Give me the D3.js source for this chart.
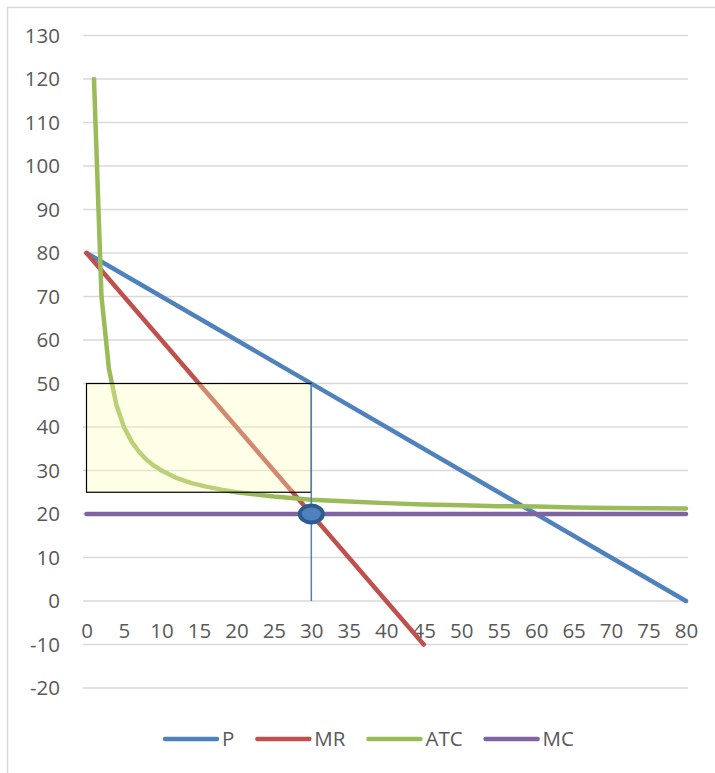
<!DOCTYPE html>
<html><head><meta charset="utf-8">
<script src="https://cdn.jsdelivr.net/npm/d3@7"></script>
<style>
html,body{margin:0;padding:0;background:#fff;}
svg{display:block;}
text{font-family:"Open Sans","Noto Sans",sans-serif;fill:#595959;}
</style></head>
<body>
<script>
// Data
const yTicks = [-20,-10,0,10,20,30,40,50,60,70,80,90,100,110,120,130];
const xTicks = [0,5,10,15,20,25,30,35,40,45,50,55,60,65,70,75,80];
const pQ = [0, 80];            const pV = [80, 0];
const mrQ = [0, 45];           const mrV = [80, -10];
const atcQ = [1,2,3,4,5,6,7,8,9,10,12,14,16,18,20,25,30,35,40,45,50,55,60,65,70,75,80];
const atcV = [120,70,53.3,45,40,36.7,34.3,32.5,31.1,30,28.3,27.1,26.3,25.6,25,24,23.3,22.9,22.5,22.2,22,21.8,21.7,21.5,21.4,21.3,21.25];
const mcQ = [0, 80];           const mcV = [20, 20];
const boxQ = [0, 30];          const boxV = [25, 50];   // profit rectangle
const optQ = 30;               const optV = 20;         // MR = MC point
const seriesNames = ["P","MR","ATC","MC"];
const seriesColors = ["#4F81BD","#C0504D","#9BBB59","#8064A2"];

const W = 715, H = 773;
const FS = 20.5;
const svg = d3.select("body").append("svg").attr("width", W).attr("height", H);

// outer chart border
svg.append("rect").attr("x",7.5).attr("y",7.5).attr("width",W+20).attr("height",H+20)
  .attr("fill","none").attr("stroke","#d9d9d9").attr("stroke-width",1.5);

const x = d3.scaleLinear().domain([0,80]).range([86.5,686]);
const y = d3.scaleLinear().domain([-20,130]).range([688,35.5]);

// gridlines
svg.append("g").selectAll("line").data(yTicks).join("line")
  .attr("x1", x(0)-3.5).attr("x2", x(80)+2)
  .attr("y1", d=>y(d)).attr("y2", d=>y(d))
  .attr("stroke","#d9d9d9").attr("stroke-width",1.3);

const fmt = d => String(d);

// y axis labels
const yAxis = d3.axisLeft(y).tickValues(yTicks).tickFormat(fmt).tickSize(0).tickPadding(0);
const gy = svg.append("g").attr("transform","translate(60,0)").call(yAxis);
gy.select(".domain").remove();
gy.selectAll("text").attr("font-size",FS).attr("fill","#595959")
  .attr("font-family",'"Open Sans","Noto Sans",sans-serif');

// x axis labels (next to the y=0 line)
const xAxis = d3.axisBottom(x).tickValues(xTicks).tickFormat(fmt).tickSize(0).tickPadding(0);
const gx = svg.append("g").attr("transform",`translate(0,${y(0)+22})`).call(xAxis);
gx.select(".domain").remove();
gx.selectAll("text").attr("font-size",FS).attr("fill","#595959")
  .attr("font-family",'"Open Sans","Noto Sans",sans-serif');

const line = d3.line().x(d=>x(d[0])).y(d=>y(d[1]));
const zip = (a,b)=>a.map((v,i)=>[v,b[i]]);
const series = [zip(pQ,pV), zip(mrQ,mrV), zip(atcQ,atcV), zip(mcQ,mcV)];

series.forEach((s,i)=>{
  svg.append("path").datum(s).attr("d",line)
    .attr("fill","none").attr("stroke",seriesColors[i]).attr("stroke-width",4.5)
    .attr("stroke-linecap","round").attr("stroke-linejoin","round");
});

// profit rectangle (semi-transparent, drawn over lines)
svg.append("rect")
  .attr("x", x(boxQ[0])).attr("y", y(boxV[1]))
  .attr("width", x(boxQ[1])-x(boxQ[0])).attr("height", y(boxV[0])-y(boxV[1]))
  .attr("fill","#ffffb8").attr("fill-opacity",0.32)
  .attr("stroke","#000").attr("stroke-width",1.2);

// vertical drop line at optimal quantity
svg.append("line").attr("x1",x(optQ)).attr("x2",x(optQ))
  .attr("y1",y(boxV[1])).attr("y2",y(0))
  .attr("stroke","#4F81BD").attr("stroke-width",1.5);

// marker at MR = MC
svg.append("ellipse").attr("cx",x(optQ)).attr("cy",y(optV))
  .attr("rx",11.5).attr("ry",8.5)
  .attr("fill","#4F81BD").attr("stroke","#2C5C8F").attr("stroke-width",4);

// legend
const lg = svg.append("g").attr("transform","translate(163,739)");
let cx = 0;
seriesNames.forEach((n,i)=>{
  lg.append("line").attr("x1",cx+2).attr("x2",cx+54).attr("y1",0).attr("y2",0)
    .attr("stroke",seriesColors[i]).attr("stroke-width",4.5).attr("stroke-linecap","round");
  const t = lg.append("text").attr("x",cx+59).attr("y",0).attr("dy","0.35em")
    .attr("font-size",FS).text(n);
  cx += 59 + t.node().getComputedTextLength() + 21;
});
</script>
</body></html>
